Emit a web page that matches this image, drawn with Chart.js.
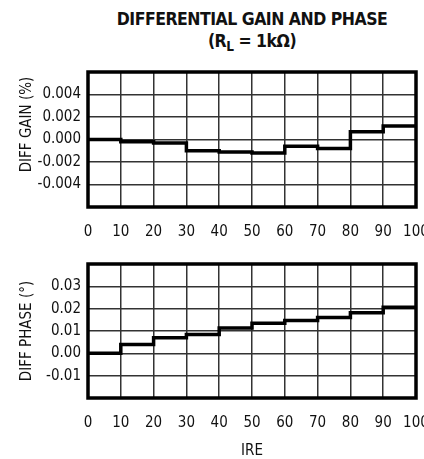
<!DOCTYPE html>
<html>
<head>
<meta charset="utf-8">
<script src="https://cdn.jsdelivr.net/npm/chart.js@4"></script>
<style>
  html, body { margin: 0; padding: 0; background: #fff; overflow: hidden; }
  body { width: 424px; height: 459px; position: relative; }
  .title { position: absolute; left: 0; width: 504px; text-align: center; font-family: 'DejaVu Sans Condensed', 'Liberation Sans', sans-serif; font-weight: bold; color: #111; letter-spacing: -0.5px; }
  #t1 { top: 9px; font-size: 17.5px; }
  #t2 { top: 31px; font-size: 17.5px; }
  #t2 sub { font-size: 13.5px; vertical-align: -4px; line-height: 0; }
  #gainWrap { position: absolute; left: 0; top: 0; width: 440px; height: 250px; }
  #phaseWrap { position: absolute; left: 0; top: 250px; width: 440px; height: 209px; }
</style>
</head>
<body>
<div class="title" id="t1">DIFFERENTIAL GAIN AND PHASE</div>
<div class="title" id="t2">(R<sub>L</sub> = 1kΩ)</div>
<div id="gainWrap"><canvas id="gainChart" width="440" height="250"></canvas></div>
<div id="phaseWrap"><canvas id="phaseChart" width="440" height="209"></canvas></div>
<script>
// IRE steps (each value holds over one 10-IRE step)
const ire = [0, 10, 20, 30, 40, 50, 60, 70, 80, 90, 100];
const diffGain = [0.0000, -0.0002, -0.0003, -0.0010, -0.0011, -0.0012, -0.0006, -0.0008, 0.0007, 0.0012];
const diffPhase = [0.000, 0.004, 0.007, 0.0084, 0.0113, 0.0135, 0.0147, 0.016, 0.0182, 0.0206];
const gainTicks = ['-0.004', '-0.002', '0.000', '0.002', '0.004'];
const phaseTicks = ['-0.01', '0.00', '0.01', '0.02', '0.03'];

const FONT = "'DejaVu Sans Condensed', 'Liberation Sans', sans-serif";

function stepPoints(vals) {
  return ire.map((x, i) => ({ x: x, y: vals[Math.min(i, vals.length - 1)] }));
}

// heavy frame round the plot area
const frame = {
  id: 'frame',
  afterDraw(chart) {
    const a = chart.chartArea;
    const c = chart.ctx;
    c.save();
    c.strokeStyle = '#000';
    c.lineWidth = 3.5;
    c.strokeRect(a.left, a.top, a.right - a.left, a.bottom - a.top);
    c.restore();
  }
};

function makeChart(id, vals, yMin, yMax, yStep, labels, digits, yTitle, xTitle, padTop, xHeight) {
  const ctx = document.getElementById(id).getContext('2d');
  return new Chart(ctx, {
    type: 'line',
    data: {
      datasets: [{
        data: stepPoints(vals),
        stepped: true,
        borderColor: '#000',
        borderWidth: 3.5,
        pointRadius: 0,
        fill: false
      }]
    },
    options: {
      responsive: false,
      animation: false,
      layout: { padding: { top: padTop, left: 0, right: 24, bottom: 0 } },
      plugins: { legend: { display: false }, tooltip: { enabled: false } },
      scales: {
        x: {
          type: 'linear', min: 0, max: 100,
          grid: { color: '#333', lineWidth: 1.5, drawTicks: false },
          border: { display: false },
          ticks: { stepSize: 10, padding: 16, color: '#111', font: { family: FONT, size: 15 }, maxRotation: 0 },
          title: { display: !!xTitle, text: xTitle, color: '#111', font: { family: FONT, size: 15, lineHeight: 1.1 }, padding: { top: 0, bottom: 0 } },
          afterFit(s) { s.height = xHeight; s.paddingLeft = 0; s.paddingRight = 0; }
        },
        y: {
          min: yMin, max: yMax,
          grid: { color: '#333', lineWidth: 1.5, drawTicks: false },
          border: { display: false },
          ticks: {
            stepSize: yStep, padding: 7, color: '#111', font: { family: FONT, size: 15 },
            callback: v => {
              const s = (Math.abs(v) < 1e-9 ? 0 : v).toFixed(digits);
              return labels.includes(s) ? s : '';
            }
          },
          title: { display: true, text: yTitle, color: '#111', font: { family: FONT, size: 15, lineHeight: 1.2 }, padding: { top: 18, bottom: 0 } },
          afterFit(s) { s.width = 88; s.paddingTop = 0; s.paddingBottom = 0; }
        }
      }
    },
    plugins: [frame]
  });
}

makeChart('gainChart', diffGain, -0.006, 0.006, 0.002, gainTicks, 3, '\u00a0\u00a0\u00a0\u00a0\u00a0\u00a0\u00a0DIFF GAIN (%)', '', 72, 43);
makeChart('phaseChart', diffPhase, -0.02, 0.04, 0.01, phaseTicks, 2, 'DIFF PHASE (°)', 'IRE', 14, 61);
</script>
</body>
</html>
